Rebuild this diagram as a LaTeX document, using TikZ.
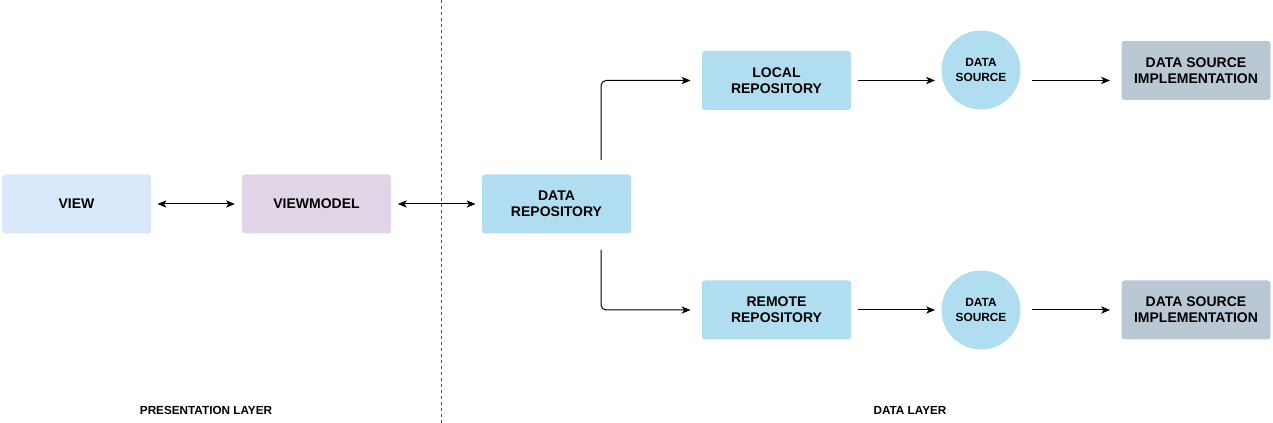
\documentclass[tikz,border=0pt]{standalone}
\usepackage{fontspec}
\setmainfont{Liberation Sans}
\usetikzlibrary{arrows.meta,calc,positioning}
\definecolor{viewfill}{HTML}{DAE8FC}
\definecolor{vmfill}{HTML}{E1D5E7}
\definecolor{repofill}{HTML}{B1DDF0}
\definecolor{implfill}{HTML}{BAC8D3}
\definecolor{sepline}{HTML}{555555}
\tikzset{
	>={Stealth[length=6.6pt,width=5.4pt,inset=1.7pt]}, semithick,
	txt/.style = {font=\fontsize{10.5}{12}\selectfont\bfseries, align=center},
	layer/.style = {font=\fontsize{8.8}{10}\selectfont\bfseries}
}

\begin{document}
\begin{tikzpicture}[x=0.75pt, y=-0.75pt, line width=0.75pt]
            \tikzstyle{block} = [rectangle, rounded corners=2.25pt, inner sep=0pt,
                minimum height=44.25pt, minimum width=111.75pt, txt]
            \tikzstyle{source} = [circle, fill=repofill, inner sep=0pt, minimum size=59.25pt,
                font=\fontsize{8.9}{10.7}\selectfont\bfseries, align=center]
            \useasboundingbox [fill=white] (0,0) rectangle (1273,423);
            % presentation side
            \node [block, fill=viewfill] at (76.5,204) (view) {VIEW};
            \node [block, fill=vmfill, right of=view, node distance=180pt] (viewmodel) {VIEWMODEL};
            \node [block, fill=repofill, right of=viewmodel, node distance=180pt] (repo) {DATA\\REPOSITORY};
            % data side
            \node [block, fill=repofill] at (776.5,80.5) (local) {LOCAL\\REPOSITORY};
            \node [block, fill=repofill] at (776.5,310) (remote) {REMOTE\\REPOSITORY};
            \node [source] at (981,70) (src1) {DATA\\SOURCE};
            \node [source] at (981,310) (src2) {DATA\\SOURCE};
            \node [block, fill=implfill] at (1196,70.5) (impl1) {DATA SOURCE\\IMPLEMENTATION};
            \node [block, fill=implfill] at (1196,310) (impl2) {DATA SOURCE\\IMPLEMENTATION};

            \node [layer] at (206,410) (presentation) {PRESENTATION LAYER};
            \node [layer] at (910,410) (datalayer) {DATA LAYER};
            \draw [sepline, dash pattern=on 2.25pt off 2.25pt] (441.5,0) -- (441.5,423);

            \draw [<->, shorten <=4.5pt, shorten >=5pt] (view) -- (viewmodel);
            \draw [<->, shorten <=4.8pt, shorten >=4.5pt] (viewmodel) -- (repo);
            \draw [->, rounded corners=3.75pt, shorten >=8.25pt]
                ($(repo.north)+(44.5,-14)$) |- (local.west);
            \draw [->, rounded corners=3.75pt, shorten >=8.25pt]
                ($(repo.south)+(44.5,16)$) |- (remote.west);
            \draw [->, shorten <=4.5pt, shorten >=4.5pt] (local.east) -- (local.east -| src1.west);
            \draw [->, shorten <=8.25pt, shorten >=8.25pt] (src1.east |- local.east) -- (local.east -| impl1.west);
            \draw [->, shorten <=4.5pt, shorten >=4.5pt] (remote) -- (src2);
            \draw [->, shorten <=8.25pt, shorten >=8.25pt] (src2) -- (impl2);

        \end{tikzpicture}
\end{document}
